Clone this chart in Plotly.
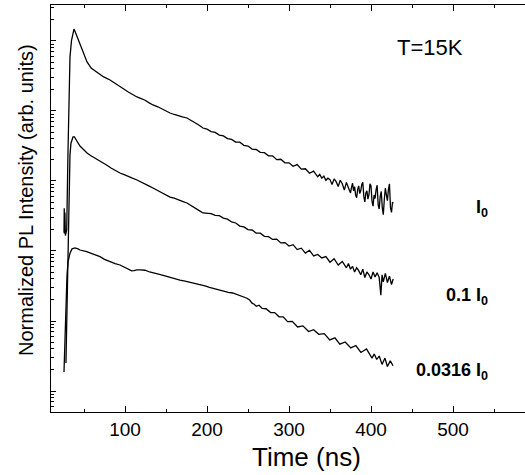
import numpy as np
import plotly.graph_objects as go

# ---- data (time in ns, log10 of normalized PL intensity, arb. units) ----
t_I0 = [25.6, 25.9, 26.3, 26.7, 27.3, 28.9, 30.5, 32.0, 32.9, 34.8, 37.0, 37.8, 39.0, 41.5, 45.1, 49,
        53.7, 59, 65.9, 74, 81.7, 88, 93.9, 99, 104, 109, 114.6, 119, 124, 129, 134.1, 140, 145, 150,
        154.9, 160, 165, 170, 175.6, 180, 185, 190, 195.1,
        200, 205, 210, 215, 220, 225, 230, 235, 240, 245, 250, 255, 260, 265, 270, 275, 280, 285, 290,
        295, 300, 305, 310, 315, 320, 325, 330, 335, 337.5, 340, 342.5, 345, 347.5, 350, 352.5, 355,
        357.5, 360, 362.5, 365, 367.5, 370, 372.5,
        375, 376.25, 377.5, 378.75, 380, 381.25, 382.5, 383.75, 385, 386.25, 387.5, 388.75, 390, 391.25,
        392.5, 393.75, 395, 396.25, 397.5, 398.75, 400, 401.25, 402.5, 403.75, 405, 406.25, 407.5,
        408.75, 410, 411.25, 412.5, 413.75, 415, 416.25, 417.5, 418.75, 420, 421.25, 422.5, 423.75,
        425, 426.25, 427]
log_I0 = [2.26, 2.61, 2.25, 2.55, 2.22, 2.30, 3.43, 4.60, 4.77, 5.01, 5.157, 5.17, 5.14, 5.06, 4.97, 4.84,
          4.70, 4.61, 4.557, 4.486, 4.443, 4.39, 4.343, 4.31, 4.271, 4.235, 4.20, 4.18, 4.157, 4.12, 4.086,
          4.06, 4.03, 3.995, 3.971, 3.95, 3.93, 3.915, 3.90, 3.87, 3.843, 3.80, 3.757,
          3.74, 3.705, 3.695, 3.655, 3.645, 3.605, 3.595, 3.555, 3.555, 3.51, 3.50, 3.455, 3.45, 3.41,
          3.405, 3.36, 3.36, 3.305, 3.31, 3.26, 3.26, 3.21, 3.235, 3.17, 3.175, 3.11, 3.14, 3.06, 3.095,
          3.04, 3.07, 3.01, 3.04, 3.02, 2.95, 3.03, 2.99, 2.92, 3.01, 2.96, 2.87, 2.98, 2.90,
          2.83, 2.91, 2.97, 2.86, 2.92, 2.80, 2.76, 2.88, 2.93, 2.82, 2.86, 2.95, 2.98, 2.78,
          2.70, 2.83, 2.86, 2.74, 2.80, 2.96, 2.93, 2.71, 2.64, 2.80, 2.75, 2.88, 2.94,
          2.66, 2.60, 2.78, 2.85, 2.62, 2.52, 2.74, 2.90, 2.80, 2.72, 2.88, 2.96, 2.62,
          2.55, 2.70, 2.68]

t_01I0 = [28.0, 28.7, 29.3, 30.5, 31.7, 32.9, 34.1, 35.4, 36.6, 38.4, 40.2, 42.7, 45.1, 48.8, 53.7, 58,
          63.4, 68, 73.2, 78, 82.9, 88, 93.9, 99, 103.7, 109, 114.6, 119, 124.4, 129, 134.1, 140, 145.1,
          150, 154.9, 160, 164.6, 170, 175.6, 180, 185.4, 190, 195.1,
          205, 210, 215, 220, 225, 230, 235, 240, 245, 250, 255, 260, 265, 270, 275, 280, 285, 290, 295,
          300, 305, 310, 315, 320, 325, 330, 335, 340, 345, 350, 355, 360, 365, 370, 372.5, 375, 377.5,
          380, 382.5, 385, 387.5, 390, 392.5, 395, 397.5, 400, 402.5, 405, 407.5, 410, 412, 413.5, 415,
          417.5, 420, 422.5, 425, 427]
log_01I0 = [0.40, 0.87, 1.30, 2.30, 3.01, 3.37, 3.54, 3.60, 3.629, 3.629, 3.60, 3.543, 3.50, 3.457, 3.40,
            3.365, 3.329, 3.29, 3.257, 3.225, 3.186, 3.15, 3.114, 3.09, 3.071, 3.04, 3.014, 2.985, 2.957,
            2.93, 2.90, 2.86, 2.829, 2.80, 2.771, 2.755, 2.729, 2.71, 2.686, 2.65, 2.614, 2.58, 2.543,
            2.535, 2.51, 2.505, 2.47, 2.455, 2.415, 2.40, 2.355, 2.345, 2.305, 2.30, 2.255, 2.255, 2.21,
            2.205, 2.165, 2.17, 2.115, 2.12, 2.07, 2.09, 2.02, 2.04, 1.97, 2.01, 1.93, 1.95, 1.90, 1.92,
            1.84, 1.89, 1.80, 1.85, 1.76, 1.82, 1.74, 1.78, 1.70, 1.76, 1.72, 1.66, 1.74, 1.62, 1.70,
            1.66, 1.60, 1.70, 1.63, 1.69, 1.62, 1.37, 1.66, 1.56, 1.68, 1.55, 1.64, 1.52, 1.60]

t_0316I0 = [25.6, 26.2, 26.8, 27.4, 28.0, 29.3, 30.5, 32.9, 35.4, 39.0, 42.7, 45.1, 53.3, 61, 69.5, 75,
            81.7, 88, 93.9, 98, 102.1, 108.2, 111, 114.3, 119, 124.4, 130, 136.6, 142, 148.8, 155, 161,
            167, 173.2, 179, 185.4, 191, 197.6, 203, 209.8, 215, 221.1, 226, 231.3, 236, 241.6,
            245, 248.8, 252, 255, 257.5, 260.1, 263.5, 267.3, 272, 277.6, 282.5, 287.9, 293, 298.2, 304,
            310.5, 317, 323.9, 330, 336.3, 343, 349.7, 356, 362, 368.5, 375.4, 381.5, 387.7, 394.5, 401.2,
            404, 407, 410, 413.5, 417, 420, 423.5, 426.9]
log_0316I0 = [0.27, 0.51, 0.73, 1.04, 1.30, 1.66, 1.84, 1.97, 2.03, 2.043, 2.03, 2.014, 1.99, 1.955, 1.919,
              1.88, 1.847, 1.82, 1.80, 1.775, 1.757, 1.715, 1.718, 1.729, 1.73, 1.725, 1.70, 1.686, 1.665,
              1.643, 1.62, 1.60, 1.585, 1.571, 1.555, 1.543, 1.52, 1.50, 1.48, 1.457, 1.44, 1.429, 1.41,
              1.40, 1.38, 1.357,
              1.35, 1.325, 1.30, 1.255, 1.24, 1.21, 1.225, 1.18, 1.175, 1.12, 1.12, 1.06, 1.06, 0.99,
              0.995, 0.915, 0.93, 0.85, 0.875, 0.81, 0.82, 0.73, 0.76, 0.67, 0.70, 0.615, 0.65, 0.55,
              0.60, 0.47, 0.53, 0.45, 0.50, 0.38, 0.47, 0.35, 0.43, 0.36]

x_ticks = [100, 200, 300, 400, 500]
x_minor_ticks = [50, 150, 250, 350, 450, 550]
series = [
    (t_I0, log_I0),
    (t_01I0, log_01I0),
    (t_0316I0, log_0316I0),
]
labels = ["I<sub>0</sub>", "0.1 I<sub>0</sub>", "0.0316 I<sub>0</sub>"]
label_y = [2.6, 1.35, 0.28]   # log10 positions of the labels
label_x = 545                 # ns, right edge of the labels

FONT = "Liberation Sans"

# minor tick positions of the log axis (2..9 x each decade)
y_minor = [m * 10.0 ** k for k in range(-1, 6) for m in range(2, 10)]

fig = go.Figure()
for t, lg in series:
    fig.add_trace(go.Scatter(x=t, y=10 ** np.array(lg), mode="lines",
                             line=dict(color="black", width=1.3), showlegend=False,
                             hoverinfo="skip"))

for lab, ly in zip(labels, label_y):
    fig.add_annotation(x=label_x, y=ly, xref="x", yref="y", text="<b>" + lab + "</b>",
                       showarrow=False, xanchor="right", yanchor="middle",
                       font=dict(family=FONT, size=18, color="black"))

fig.add_annotation(x=472, y=4.914, xref="x", yref="y", text="T=15K", showarrow=False,
                   xanchor="center", yanchor="middle", font=dict(family=FONT, size=22, color="black"))

fig.add_annotation(x=0.54, y=-0.1106, xref="paper", yref="paper", text="Time (ns)", showarrow=False,
                   xanchor="center", yanchor="middle", font=dict(family=FONT, size=26, color="black"))

fig.add_annotation(x=-0.0527, y=0.521, xref="paper", yref="paper",
                   text="Normalized PL Intensity (arb. units)", textangle=-90, showarrow=False,
                   xanchor="center", yanchor="middle", font=dict(family=FONT, size=20, color="black"))

fig.update_layout(
    width=525, height=475,
    margin=dict(l=51, r=0, t=5, b=63, autoexpand=False),
    paper_bgcolor="white", plot_bgcolor="white",
    font=dict(family=FONT, color="black"),
)
fig.update_xaxes(
    range=[9.76, 587.8], tickvals=x_ticks, ticks="inside", ticklen=6, tickwidth=1,
    tickcolor="black", showline=True, linecolor="black", linewidth=1.3, mirror="ticks",
    showgrid=False, zeroline=False, automargin=False,
    tickfont=dict(family=FONT, size=19, color="black"),
    minor=dict(tickvals=x_minor_ticks, ticks="inside", ticklen=3, tickcolor="black", showgrid=False),
)
fig.update_yaxes(
    type="log", range=[-0.3, 5.514], dtick=1, ticks="inside", ticklen=5, tickwidth=1,
    tickcolor="black", showline=True, linecolor="black", linewidth=1.3, mirror=False,
    showgrid=False, zeroline=False, showticklabels=False, automargin=False,
    minor=dict(tickvals=y_minor, ticks="inside", ticklen=3, tickcolor="black", showgrid=False),
)

fig.write_html("out.html", config={"displayModeBar": False},
               post_script="document.body.style.margin='0px';")
